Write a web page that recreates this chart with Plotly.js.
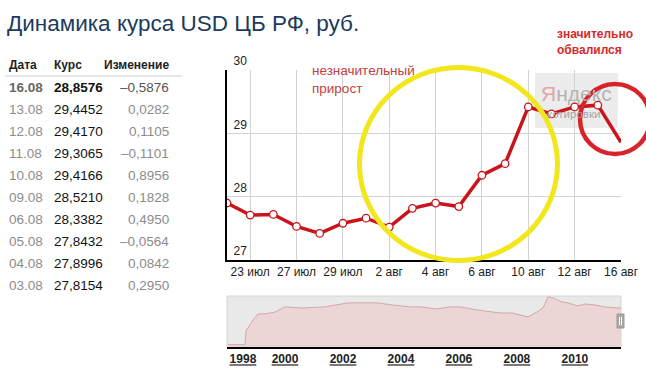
<!DOCTYPE html>
<html>
<head>
<meta charset="utf-8">
<script src="https://cdn.plot.ly/plotly-3.0.1.min.js"></script>
<style>html,body{margin:0;padding:0;background:#fff;}#chart{width:646px;height:390px;}</style>
</head>
<body>
<div id="chart"></div>
<script>
// ---- data ----
var dates = ['22.07','23.07','26.07','27.07','28.07','29.07','30.07','02.08','03.08','04.08','05.08','06.08','09.08','10.08','11.08','12.08','13.08','16.08'];
var rates = [27.90, 27.71, 27.72, 27.53, 27.42, 27.58, 27.66, 27.5204, 27.8154, 27.8996, 27.8432, 28.3382, 28.5210, 29.4166, 29.3065, 29.4170, 29.4452, 28.8576];
var tickDates = ['23.07','27.07','29.07','02.08','04.08','06.08','10.08','12.08','16.08'];
var tickLabels = ['23 июл','27 июл','29 июл','2 авг','4 авг','6 авг','10 авг','12 авг','16 авг'];
var yTicks = [27, 28, 29, 30];

var histYears = [1998.03,1998.62,1998.66,1998.72,1998.9,1999.07,1999.31,1999.66,2000.0,2000.59,2001.38,2001.83,2002.17,2002.76,2003.17,2003.72,2004.31,2004.66,2005.24,2005.69,2006.03,2006.62,2007.41,2007.83,2008.38,2008.69,2008.9,2009.07,2009.24,2009.55,2009.76,2010.1,2010.34,2010.69,2011.03,2011.48,2011.59];
var histRates = [6.2,6.2,15.4,16.6,21.6,25.4,25.4,26.6,29.8,29.1,29.8,31.0,32.3,32.3,32.3,31.0,29.8,29.8,28.5,29.8,29.8,27.9,26.0,26.0,23.5,26.6,29.1,36.0,35.4,32.9,32.3,30.4,31.6,31.0,29.8,29.1,29.1];
var yearTicks = [1998, 2000, 2002, 2004, 2006, 2008, 2010];

var tableHeader = ['Дата', 'Курс', 'Изменение'];
var tableRows = 10;

// ---- helpers ----
var W = 646, H = 390;
function px(x){ return x / W; }
function py(y){ return 1 - y / H; }
function fmt(v){ return v.toFixed(4).replace('.', ','); }
function fmtChange(v){ var s = Math.abs(v).toFixed(4).replace('.', ','); return v < 0 ? '–' + s : s; }

var FONT = 'Arial, "Liberation Sans", sans-serif';

// ---- table (built as text from the series, latest first) ----
var colX = [7, 52, 171];
var colAnchor = ['left', 'left', 'right'];
var headerY = 65, rowY0 = 87, rowStep = 22.1;
var annotations = [];
tableHeader.forEach(function(h, c){
  annotations.push({xref: 'paper', yref: 'paper', x: px(colX[c]), y: py(headerY), xanchor: colAnchor[c], yanchor: 'middle',
    showarrow: false, text: '<b>' + h + '</b>', font: {family: FONT, size: 12, color: '#222'}});
});
for (var k = 0; k < tableRows; k++) {
  var i = rates.length - 1 - k;
  var first = (k === 0);
  var cells = [dates[i], fmt(rates[i]), fmtChange(rates[i] - rates[i - 1])];
  var colors = [first ? '#666' : '#8c8c8c', '#111', first ? '#555' : '#8c8c8c'];
  cells.forEach(function(t, c){
    annotations.push({xref: 'paper', yref: 'paper', x: px(colX[c]), y: py(rowY0 + k * rowStep), xanchor: colAnchor[c], yanchor: 'middle',
      showarrow: false, text: (first && c < 2) ? '<b>' + t + '</b>' : t,
      font: {family: FONT, size: 13.5, color: colors[c]}});
  });
}

var markerSizes = rates.map(function(v, k){ return k === rates.length - 1 ? 0 : 7.5; });

var traces = [
  {
    type: 'scatter', mode: 'lines', xaxis: 'x2', yaxis: 'y2',
    x: histYears, y: histRates,
    fill: 'tozeroy', fillcolor: '#ecd5d5',
    line: {color: '#d3a7a7', width: 1},
    hoverinfo: 'skip'
  },
  {
    type: 'scatter', mode: 'lines+markers', xaxis: 'x', yaxis: 'y',
    x: dates, y: rates,
    line: {color: '#c9141c', width: 3.5},
    marker: {size: markerSizes, color: '#ffffff', opacity: 1, line: {color: '#c9141c', width: 1.3}}
  }
];

annotations = annotations.concat([
  {xref: 'paper', yref: 'paper', x: px(576), y: py(93), xanchor: 'center', yanchor: 'middle', showarrow: false,
   text: '<span style="color:#e2a6a6">Я</span>ндекс', font: {family: FONT, size: 21, color: '#b3b3b3'}},
  {xref: 'paper', yref: 'paper', x: px(573), y: py(114), xanchor: 'center', yanchor: 'middle', showarrow: false,
   text: 'котировки', font: {family: FONT, size: 11.5, color: '#a5a5a5'}},
  {xref: 'paper', yref: 'paper', x: px(310), y: py(80), xanchor: 'left', yanchor: 'middle', align: 'left', showarrow: false,
   text: 'незначительный<br>прирост', font: {family: FONT, size: 13.5, color: '#c4403e'}},
  {xref: 'paper', yref: 'paper', x: px(555), y: py(42), xanchor: 'left', yanchor: 'middle', align: 'left', showarrow: false,
   text: '<b>значительно<br>обвалился</b>', font: {family: FONT, size: 12, color: '#d42a2a'}}
]);

var layout = {
  width: W, height: H, autosize: false,
  margin: {l: 0, r: 0, t: 0, b: 0},
  paper_bgcolor: '#fff', plot_bgcolor: 'rgba(0,0,0,0)',
  showlegend: false,
  font: {family: FONT, color: '#222'},
  title: {
    text: 'Динамика курса USD ЦБ РФ, руб.',
    x: px(7), xref: 'paper', xanchor: 'left',
    y: py(23), yref: 'paper', yanchor: 'middle',
    font: {family: FONT, size: 22.5, color: '#1c3a5c'}
  },
  xaxis: {
    type: 'category', domain: [px(227), px(621)], range: [0, 17],
    anchor: 'y',
    tickmode: 'array', tickvals: tickDates, ticktext: tickLabels,
    showgrid: true, gridcolor: '#d2d2d2', gridwidth: 1,
    showline: true, linecolor: '#000', linewidth: 2,
    ticks: '', tickfont: {family: FONT, size: 12, color: '#222'},
    zeroline: false, fixedrange: true
  },
  yaxis: {
    domain: [py(260), py(70)], range: [27, 30], anchor: 'x',
    tickmode: 'array', tickvals: yTicks,
    showgrid: true, gridcolor: '#d2d2d2', gridwidth: 1,
    showline: true, linecolor: '#000', linewidth: 2,
    ticks: '', ticklabelposition: 'inside', ticklabelstandoff: 6, ticklabelshift: -9,
    ticklabeloverflow: 'allow',
    tickfont: {family: FONT, size: 12, color: '#222'},
    zeroline: false, fixedrange: true
  },
  xaxis2: {
    domain: [px(227), px(621)], range: [1998, 2011.59], anchor: 'y2',
    tickmode: 'array', tickvals: yearTicks.map(function(y, k){ return k === 0 ? y + 0.55 : y; }),
    ticktext: yearTicks.map(String),
    showgrid: false, showline: true, linecolor: '#000', linewidth: 2,
    ticks: '', tickfont: {family: FONT, size: 12, color: '#222', weight: 'bold', lineposition: 'under'},
    zeroline: false, fixedrange: true
  },
  yaxis2: {
    domain: [py(347), py(296)], range: [4.75, 36.6], anchor: 'x2',
    showgrid: false, showticklabels: false, showline: false, zeroline: false, fixedrange: true
  },
  shapes: [
    {type: 'line', xref: 'paper', yref: 'paper', x0: px(5), x1: px(182), y0: py(76), y1: py(76), line: {color: '#cfcfcf', width: 1}},
    {type: 'rect', xref: 'x2 domain', yref: 'y2 domain', x0: 0, x1: 1, y0: 0, y1: 1, layer: 'below', fillcolor: '#e9e9e9', line: {color: '#d6d6d6', width: 1}},
    {type: 'rect', xref: 'paper', yref: 'paper', x0: px(617), x1: px(624), y0: py(328), y1: py(314), fillcolor: '#a8a8a8', line: {color: '#999', width: 1}},
    {type: 'line', xref: 'paper', yref: 'paper', x0: px(619.5), x1: px(619.5), y0: py(325), y1: py(317), line: {color: '#fff', width: 1}},
    {type: 'line', xref: 'paper', yref: 'paper', x0: px(621.5), x1: px(621.5), y0: py(325), y1: py(317), line: {color: '#fff', width: 1}},
    {type: 'rect', xref: 'paper', yref: 'paper', x0: px(535), x1: px(618), y0: py(128), y1: py(73), layer: 'between', fillcolor: '#ececec', line: {width: 0}},
    {type: 'circle', xref: 'paper', yref: 'paper', x0: px(359.5), x1: px(557.5), y0: py(260.5), y1: py(67.5), line: {color: '#f2e61c', width: 5}},
    {type: 'circle', xref: 'paper', yref: 'paper', x0: px(580), x1: px(650), y0: py(154), y1: py(84), line: {color: '#d8232a', width: 4.5}}
  ],
  annotations: annotations
};

Plotly.newPlot('chart', traces, layout, {staticPlot: true, displayModeBar: false});
</script>
</body>
</html>
